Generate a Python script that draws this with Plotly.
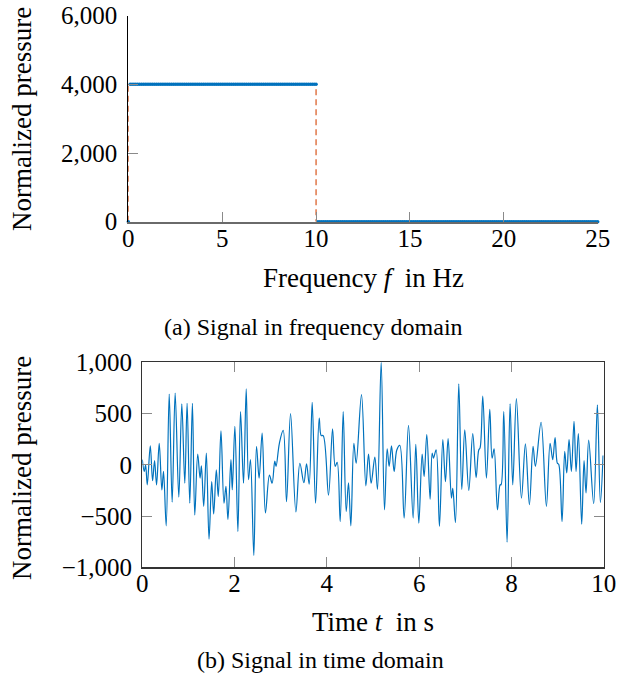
import numpy as np
import plotly.graph_objects as go

# ---------------- data: frequency domain ----------------
freq_step_hz = 0.1
freq_max_hz = 25
band_edges_hz = [0, 10, 25]      # passband 0..10 Hz, stopband 10..25 Hz
band_levels = [4000, 0]          # normalized pressure in each band
dc_level = 0                     # value at f = 0
rect_x = [0, 0, 10, 10]          # ideal band-limit outline (dashed)
rect_y = [0, 4000, 4000, 0]

# ---------------- data: time domain ----------------
time_s = [0, 0.043, 0.072, 0.108, 0.173, 0.223, 0.266, 0.309, 0.367, 0.424, 0.460, 0.518,
          0.583, 0.647, 0.712, 0.791, 0.856, 0.921, 0.971, 1.029, 1.086, 1.137, 1.201, 1.252,
          1.281, 1.331, 1.388, 1.446, 1.504, 1.547, 1.604, 1.647, 1.705, 1.770, 1.813, 1.856,
          1.921, 1.950, 2.007, 2.072, 2.129, 2.194, 2.252, 2.302, 2.345, 2.417, 2.475, 2.532,
          2.597, 2.669, 2.755, 2.813, 2.871, 2.899, 2.971,
          3.054, 3.126, 3.213, 3.329, 3.415, 3.502, 3.560, 3.617, 3.682, 3.755, 3.834, 3.877,
          3.921, 4.036, 4.123, 4.181, 4.224, 4.289, 4.354, 4.419, 4.469, 4.520, 4.585, 4.635,
          4.751, 4.845, 4.903, 4.960, 5.040, 5.097, 5.177, 5.249, 5.307, 5.350, 5.401, 5.458,
          5.516, 5.581, 5.675, 5.769, 5.870, 5.928, 5.993, 6.065, 6.108, 6.166, 6.238,
          6.282, 6.310, 6.368, 6.440, 6.513, 6.570, 6.628, 6.700, 6.729, 6.787, 6.859, 6.924,
          6.989, 7.076, 7.162, 7.235, 7.292, 7.321, 7.379, 7.458, 7.531, 7.581, 7.625, 7.697,
          7.755, 7.776, 7.834, 7.906, 7.971, 8.029, 8.108, 8.217, 8.303, 8.390, 8.469, 8.520,
          8.643, 8.758, 8.838, 8.895, 8.946, 8.996, 9.025, 9.097, 9.155, 9.199, 9.249, 9.300,
          9.357, 9.401, 9.451, 9.523, 9.574, 9.617, 9.675, 9.783, 9.863, 9.928, 9.986]
pressure_t = [50, -65, 0, -195, 185, -155, 40, -195, 210, -245, -65, -595,
              690, -365, 700, -315, 595, -180, 600, -375, 600, -490, 105, -130,
              -10, -405, 115, -725, -165, -480, -50, -310, 330, -375, -210, -535,
              50, -245, 375, -650, 520, -180, 740, -145, 50, -885, 180, -130,
              310, -470, -100, -180, 35, -15, 210,
              335, -360, 500, -460, 15, -175, 10, -190, 610, -375, 455, 285,
              285, -295, 350, -15, 25, -555, 520, -455, -175, -595, 210, 15,
              685, -205, 105, -180, 75, -240, 1000, -440, 155, -15, 185, -65,
              145, 190, -520, 385, -520, 200, -570, 105, -115, 295, -335,
              115, 65, 145, -600, 245, -165, 255, -325, -230, -565, 790, -240,
              340, -250, 305, -125, 145, 165, 670, -130, 540, 65, 155, -440,
              -195, -195, 520, -755, 595, -195, 645, -325, 205, -390, 180, -15,
              415, -405, 210, 50, 265, 15, 5, -555, 130, -80, 245, -65,
              425, -65, 305, -580, 40, -275, 240, -380, 585, -370, 90]

freq_ticks = [0, 5, 10, 15, 20, 25]
pf_ticks = [0, 2000, 4000, 6000]
time_ticks = [0, 2, 4, 6, 8, 10]
pt_ticks = [-1000, -500, 0, 500, 1000]

# build spectrum from band levels
freq = np.round(np.arange(0, freq_max_hz + 1e-9, freq_step_hz), 3)
amp = np.where(freq <= band_edges_hz[1], band_levels[0], band_levels[1]).astype(float)
amp[freq == 0] = dc_level

W, H = 636, 679
FONT = "Liberation Serif, Times New Roman, Times, serif"
BLUE = "#0072BD"
ORANGE = "#D95319"

def px(x):
    return x / W

def py(y):
    return 1 - y / H

fig = go.Figure()

fig.add_trace(go.Scatter(x=rect_x, y=rect_y, mode="lines",
                         line=dict(color=ORANGE, width=1.2, dash="6px,4px"),
                         xaxis="x", yaxis="y", cliponaxis=False, showlegend=False))
fig.add_trace(go.Scatter(x=freq, y=amp, mode="markers",
                         marker=dict(color=BLUE, size=3.5, line=dict(width=0)),
                         xaxis="x", yaxis="y", cliponaxis=False, showlegend=False))
fig.add_trace(go.Scatter(x=time_s, y=pressure_t, mode="lines",
                         line=dict(color=BLUE, width=1.2, shape="spline", smoothing=1.0),
                         xaxis="x2", yaxis="y2", showlegend=False))

tickfont = dict(family=FONT, size=25, color="black")

common = dict(ticks="inside", ticklen=10, tickcolor="#8a8a8a", showgrid=False,
              zeroline=False, tickfont=tickfont, automargin=False,
              ticklabeloverflow="allow")

fig.update_layout(
    width=W, height=H, autosize=False,
    margin=dict(l=0, r=0, t=0, b=0, autoexpand=False),
    paper_bgcolor="white", plot_bgcolor="white",
    separators=".,",
    hovermode=False,
    xaxis=dict(domain=[px(128.3), px(597.7)], anchor="y", range=[0, 25],
               tickvals=freq_ticks, showline=True, linecolor="#6a6a6a", linewidth=2,
               ticklabelstandoff=-7, **common),
    yaxis=dict(domain=[py(221.7), py(15.7)], anchor="x", range=[0, 6000],
               tickvals=pf_ticks, tickformat=",d", showline=True, linecolor="black",
               linewidth=1, ticklabelstandoff=5, **common),
    xaxis2=dict(domain=[px(142.3), px(603.7)], anchor="y2", range=[0, 10],
                tickvals=time_ticks, showline=True, linecolor="#333333", linewidth=1.2,
                mirror="ticks", ticklabelstandoff=-7, **common),
    yaxis2=dict(domain=[py(567.3), py(362.3)], anchor="x2", range=[-1000, 1000],
                tickvals=pt_ticks, tickformat=",d", showline=True, linecolor="#333333",
                linewidth=1.2, mirror="ticks", ticklabelstandoff=4, **common),
)

ann_font = dict(family=FONT, size=27, color="black")
cap_font = dict(family=FONT, size=24, color="black")
annotations = [
    dict(text="Frequency <i>f</i>  in Hz", x=px(363), y=py(278), font=ann_font),
    dict(text="Normalized pressure", x=px(22), y=py(119), font=ann_font, textangle=-90),
    dict(text="(a) Signal in frequency domain", x=px(313), y=py(327), font=cap_font),
    dict(text="Time <i>t</i>  in s", x=px(373), y=py(622), font=ann_font),
    dict(text="Normalized pressure", x=px(22), y=py(468), font=ann_font, textangle=-90),
    dict(text="(b) Signal in time domain", x=px(320), y=py(660), font=cap_font),
]
for a in annotations:
    a.update(xref="paper", yref="paper", xanchor="center", yanchor="middle", showarrow=False)
fig.update_layout(annotations=annotations)

# remove the default 8 px page margin so the 636x679 figure fills the window exactly
fig.write_html("out.html",
               config={"displayModeBar": False, "staticPlot": True},
               post_script="document.body.style.margin='0';document.body.style.overflow='hidden';")
